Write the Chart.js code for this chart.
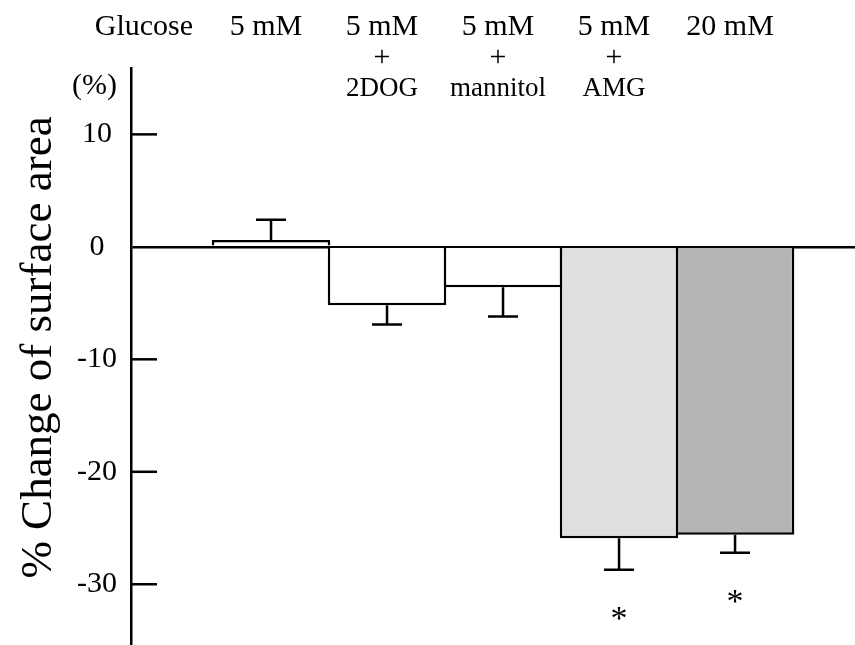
<!DOCTYPE html>
<html>
<head>
<meta charset="utf-8">
<script src="https://cdn.jsdelivr.net/npm/chart.js@4/dist/chart.umd.min.js"></script>
<style>
    html, body { margin: 0; padding: 0; background: #fff; }
    canvas { display: block; }
</style>
</head>
<body>
<canvas id="surfaceChart" width="855" height="645"></canvas>
<script>
(function () {
    'use strict';

    // Data
    const barPositions = [1, 2, 3, 4, 5];
    const changeValues = [0.6, -5.2, -3.6, -25.9, -25.6];
    const errorValues = [1.8, 1.7, 2.6, 2.8, 1.6];
    const significant = [false, false, false, true, true];
    const headerTop = ['5 mM', '5 mM', '5 mM', '5 mM', '20 mM'];
    const headerMid = ['', '+', '+', '+', ''];
    const headerBottom = ['', '2DOG', 'mannitol', 'AMG', ''];
    const yTicks = [10, 0, -10, -20, -30];
    const rowLabel = 'Glucose';
    const unitLabel = '(%)';
    const yTitle = '% Change of surface area';

    const SERIF = "'Liberation Serif', 'Times New Roman', serif";
    const barFills = ['#ffffff', '#ffffff', '#ffffff', '#dfdfdf', '#b5b5b5'];

    // Extra drawing: inward ticks, error bars, asterisks, header texts, axis title
    const annotations = {
        id: 'annotations',
        afterDraw(chart) {
            const { ctx, chartArea, scales: { x, y } } = chart;
            ctx.save();
            ctx.strokeStyle = '#000';
            ctx.fillStyle = '#000';
            ctx.lineWidth = 2.5;

            // tick marks pointing into the plot
            yTicks.forEach(v => {
                if (v === 0) return;
                const py = y.getPixelForValue(v);
                ctx.beginPath();
                ctx.moveTo(chartArea.left, py);
                ctx.lineTo(chartArea.left + 26, py);
                ctx.stroke();
            });

            // one-sided error bars
            ctx.font = '34px ' + SERIF;
            ctx.textAlign = 'center';
            ctx.textBaseline = 'alphabetic';
            changeValues.forEach((v, i) => {
                const dir = v >= 0 ? 1 : -1;
                const px = x.getPixelForValue(barPositions[i]);
                const y0 = y.getPixelForValue(v);
                const y1 = y.getPixelForValue(v + dir * errorValues[i]);
                ctx.beginPath();
                ctx.moveTo(px, y0);
                ctx.lineTo(px, y1);
                ctx.moveTo(px - 15, y1);
                ctx.lineTo(px + 15, y1);
                ctx.stroke();
                if (significant[i]) {
                    ctx.fillText('*', px, y1 + 59);
                }
            });

            // header rows
            ctx.font = '30px ' + SERIF;
            ctx.textAlign = 'right';
            ctx.fillText(rowLabel, x.getPixelForValue(1) - 78, 35);
            ctx.fillText(unitLabel, chartArea.left - 14, 94);
            ctx.textAlign = 'center';
            barPositions.forEach((p, i) => {
                const px = x.getPixelForValue(p) - 5;
                ctx.font = '30px ' + SERIF;
                ctx.fillText(headerTop[i], px, 35);
                if (headerMid[i]) ctx.fillText(headerMid[i], px, 66);
                ctx.font = '27px ' + SERIF;
                if (headerBottom[i]) ctx.fillText(headerBottom[i], px, 96);
            });

            // rotated axis title
            ctx.font = '45px ' + SERIF;
            ctx.translate(51, (chartArea.top + chartArea.bottom) / 2 - 9);
            ctx.rotate(-Math.PI / 2);
            ctx.textAlign = 'center';
            ctx.fillText(yTitle, 0, 0);
            ctx.restore();
        }
    };

    const ctx = document.getElementById('surfaceChart').getContext('2d');

    new Chart(ctx, {
        type: 'bar',
        data: {
            datasets: [{
                data: barPositions.map((p, i) => ({ x: p, y: changeValues[i] })),
                backgroundColor: barFills,
                borderColor: '#000',
                borderWidth: 2.5,
                borderSkipped: 'start',
                barPercentage: 1,
                categoryPercentage: 1.0216 // neighbours share one border
            }]
        },
        options: {
            responsive: false,
            animation: false,
            layout: { padding: { top: 68, left: 0, right: 0, bottom: 0 } },
            scales: {
                x: {
                    type: 'linear',
                    display: false,
                    offset: false,
                    min: -0.207,
                    max: 6.034,
                    afterBuildTicks: scale => {
                        scale.ticks = barPositions.map(v => ({ value: v }));
                    }
                },
                y: {
                    z: 1,
                    min: -35.4,
                    max: 15.9,
                    afterBuildTicks: scale => {
                        scale.ticks = yTicks.map(v => ({ value: v }));
                    },
                    afterFit: scale => {
                        scale.width = 131;
                        scale.paddingTop = 0;
                        scale.paddingBottom = 0;
                    },
                    border: { display: true, color: '#000', width: 2.5 },
                    grid: {
                        drawTicks: false,
                        color: c => (c.tick && c.tick.value === 0 ? '#000' : 'transparent'),
                        lineWidth: c => (c.tick && c.tick.value === 0 ? 2.5 : 0)
                    },
                    ticks: {
                        color: '#000',
                        padding: 14,
                        crossAlign: 'center',
                        font: { family: SERIF, size: 30 }
                    }
                }
            },
            plugins: {
                legend: { display: false },
                tooltip: { enabled: false }
            }
        },
        plugins: [annotations]
    });
})();
</script>
</body>
</html>
